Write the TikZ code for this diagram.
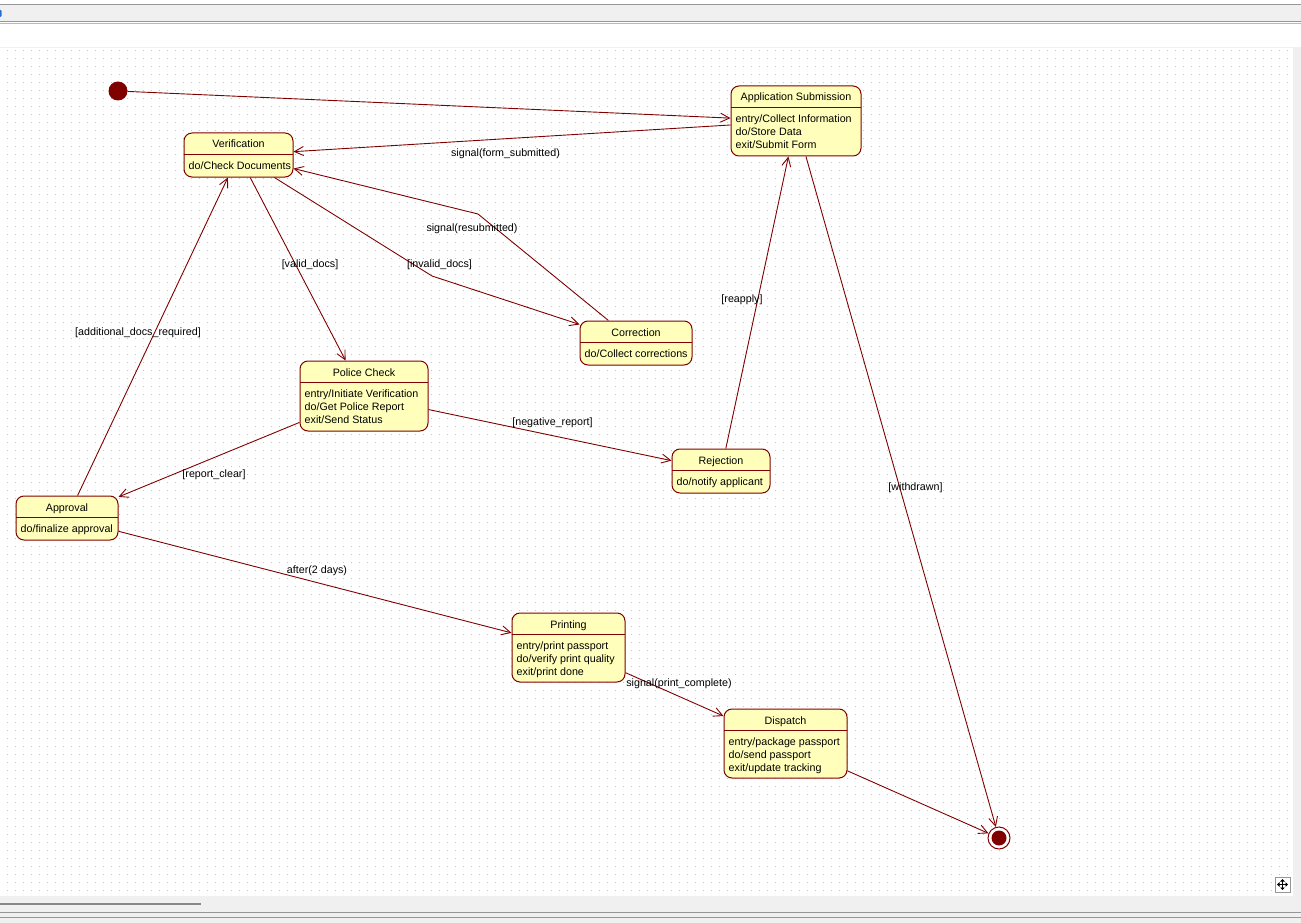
\documentclass[tikz,border=0pt]{standalone}
\usepackage{fontspec}
\setmainfont{Liberation Sans}
\usetikzlibrary{arrows.meta,patterns}

\definecolor{umlred}{RGB}{128,0,0}
\definecolor{statefill}{RGB}{255,255,187}
\definecolor{chrome}{RGB}{240,240,240}
\definecolor{chromeline}{RGB}{150,150,150}
\definecolor{lightline}{RGB}{185,185,185}
\definecolor{griddot}{RGB}{195,195,195}
\definecolor{thumb}{RGB}{135,135,135}
\definecolor{tabblue}{RGB}{40,110,210}

% dotted drawing-canvas grid, 8pt pitch
\pgfdeclarepatternformonly{canvasdots}{\pgfpointorigin}{\pgfpoint{8pt}{8pt}}{\pgfpoint{8pt}{8pt}}%
  {\pgfpathrectangle{\pgfpointorigin}{\pgfpoint{1pt}{1pt}}\pgfusepath{fill}}

\tikzset{
  statebox/.style={draw=umlred, fill=statefill, line width=1pt, rounded corners=8pt, inner sep=0pt, rectangle},
  divider/.style={draw=umlred, line width=1pt},
  titletext/.style={anchor=base, inner sep=0pt},
  bodytext/.style={anchor=base west, inner sep=0pt},
  lbl/.style={inner sep=0pt, anchor=center},
  conn/.style={draw=umlred, line width=0.9pt, -{Straight Barb[length=9pt,width=9pt,line width=0.9pt]}},
  initstate/.style={circle, fill=umlred, minimum size=19pt, inner sep=0pt},
  finalstate/.style={circle, draw=umlred, fill=white, line width=1pt, minimum size=22pt, inner sep=0pt,
    path picture={\fill[umlred] (path picture bounding box.center) circle (7.5pt);}},
}

% state with a title compartment and a list of activity lines
% #1 name, #2 left, #3 top, #4 right, #5 bottom, #6 title, #7 lines
\newcommand{\umlstate}[7]{%
  \node[statebox, minimum width={(#4)-(#2)}, minimum height={(#5)-(#3)}] (#1)
    at ({((#2)+(#4))/2},{((#3)+(#5))/2}) {};
  \draw[divider] ({#2},{#3+21.5}) -- ({#4},{#3+21.5});
  \node[titletext] (#1-title) at ({((#2)+(#4))/2},{#3+15}) {#6};
  \foreach \ln [count=\k] in {#7}
    \node[bodytext] (#1-line\k) at ({#2+4.5},{#3+36.8+13*(\k-1)}) {\ln};
}

\begin{document}
\begin{tikzpicture}[x=1pt, y=-1pt, font=\fontsize{10.7}{13}\selectfont]
\useasboundingbox (0,0) rectangle (1301,923);

% window chrome
\fill[chrome] (0,0) rectangle (1301,923);
\fill[white] (0,0) rectangle (1301,4);
\draw[chromeline, line width=1pt] (0,4.5) -- (1301,4.5);
\draw[chromeline, line width=1pt] (0,21.5) -- (1301,21.5);
\fill[white] (0,22) rectangle (1301,47);
\draw[lightline, line width=1pt] (0,24) -- (1301,24);
\fill[tabblue, rounded corners=1pt] (-2,10) rectangle (1.5,17);

% canvas
\fill[white] (0,48.5) rectangle (1293,896);
\fill[pattern=canvasdots, pattern color=griddot] (0,48.5) rectangle (1293,896);

% scroll bar and status lines
\draw[thumb, line width=2.5pt] (0,904) -- (201,904);
\draw[chromeline, line width=1pt] (0,912.5) -- (1301,912.5);
\draw[chromeline, line width=1pt] (0,917.5) -- (1301,917.5);

% move handle
\node[draw=chromeline, fill=white, line width=1pt, minimum size=15pt, inner sep=0pt] (handle) at (1282.5,884.5) {};
\foreach \ang in {0,90,180,270}
  \draw[black, line width=1pt, -{Triangle[length=2.5pt,width=4.5pt]}] (handle.center) -- ++(\ang:5.5pt);

% pseudo states
\node[initstate] (init) at (118,91) {};
\node[finalstate] (final) at (999,838) {};

% states
\umlstate{appsub}{731}{86}{861}{156}{Application Submission}{entry/Collect Information,do/Store Data,exit/Submit Form}
\umlstate{verif}{184}{133}{293}{177}{Verification}{do/Check Documents}
\umlstate{corr}{580}{321}{692}{365}{Correction}{do/Collect corrections}
\umlstate{police}{300}{361}{428}{431}{Police Check}{entry/Initiate Verification,do/Get Police Report,exit/Send Status}
\umlstate{reject}{672}{449}{770}{493}{Rejection}{do/notify applicant}
\umlstate{approval}{16}{496}{118}{540}{Approval}{do/finalize approval}
\umlstate{printing}{512}{613}{625}{682}{Printing}{entry/print passport,do/verify print quality,exit/print done}
\umlstate{dispatch}{724}{709}{847}{778}{Dispatch}{entry/package passport,do/send passport,exit/update tracking}

% bend points
\coordinate (invalidbend) at (432,276);
\coordinate (resubbend) at (478,214);

% transitions
\draw[conn] (init) -- (appsub);
\draw[conn] (appsub) -- (verif);
\draw[conn] (verif) -- (police);
\draw[conn] (verif) -- (invalidbend) -- (corr);
\draw[conn] (corr) -- (resubbend) -- (verif);
\draw[conn] (police) -- (approval);
\draw[conn] (police) -- (reject);
\draw[conn] (reject) -- (appsub);
\draw[conn] (approval) -- (verif);
\draw[conn] (approval) -- (printing);
\draw[conn] (printing) -- (dispatch);
\draw[conn] (dispatch) -- (final);
\draw[conn] (appsub) -- (final);

% transition labels
\node[lbl] (l-form) at (505.5,154) {signal(form\_submitted)};
\node[lbl] (l-valid) at (310,265) {[valid\_docs]};
\node[lbl] (l-invalid) at (439.5,265) {[invalid\_docs]};
\node[lbl] (l-resub) at (472,229) {signal(resubmitted)};
\node[lbl] (l-addl) at (138,333) {[additional\_docs\_required]};
\node[lbl] (l-reapply) at (742,300) {[reapply]};
\node[lbl] (l-neg) at (552.5,423) {[negative\_report]};
\node[lbl] (l-clear) at (214,475) {[report\_clear]};
\node[lbl] (l-withdrawn) at (915.5,488) {[withdrawn]};
\node[lbl] (l-after) at (317,571) {after(2 days)};
\node[lbl] (l-print) at (679,684) {signal(print\_complete)};
\end{tikzpicture}
\end{document}
